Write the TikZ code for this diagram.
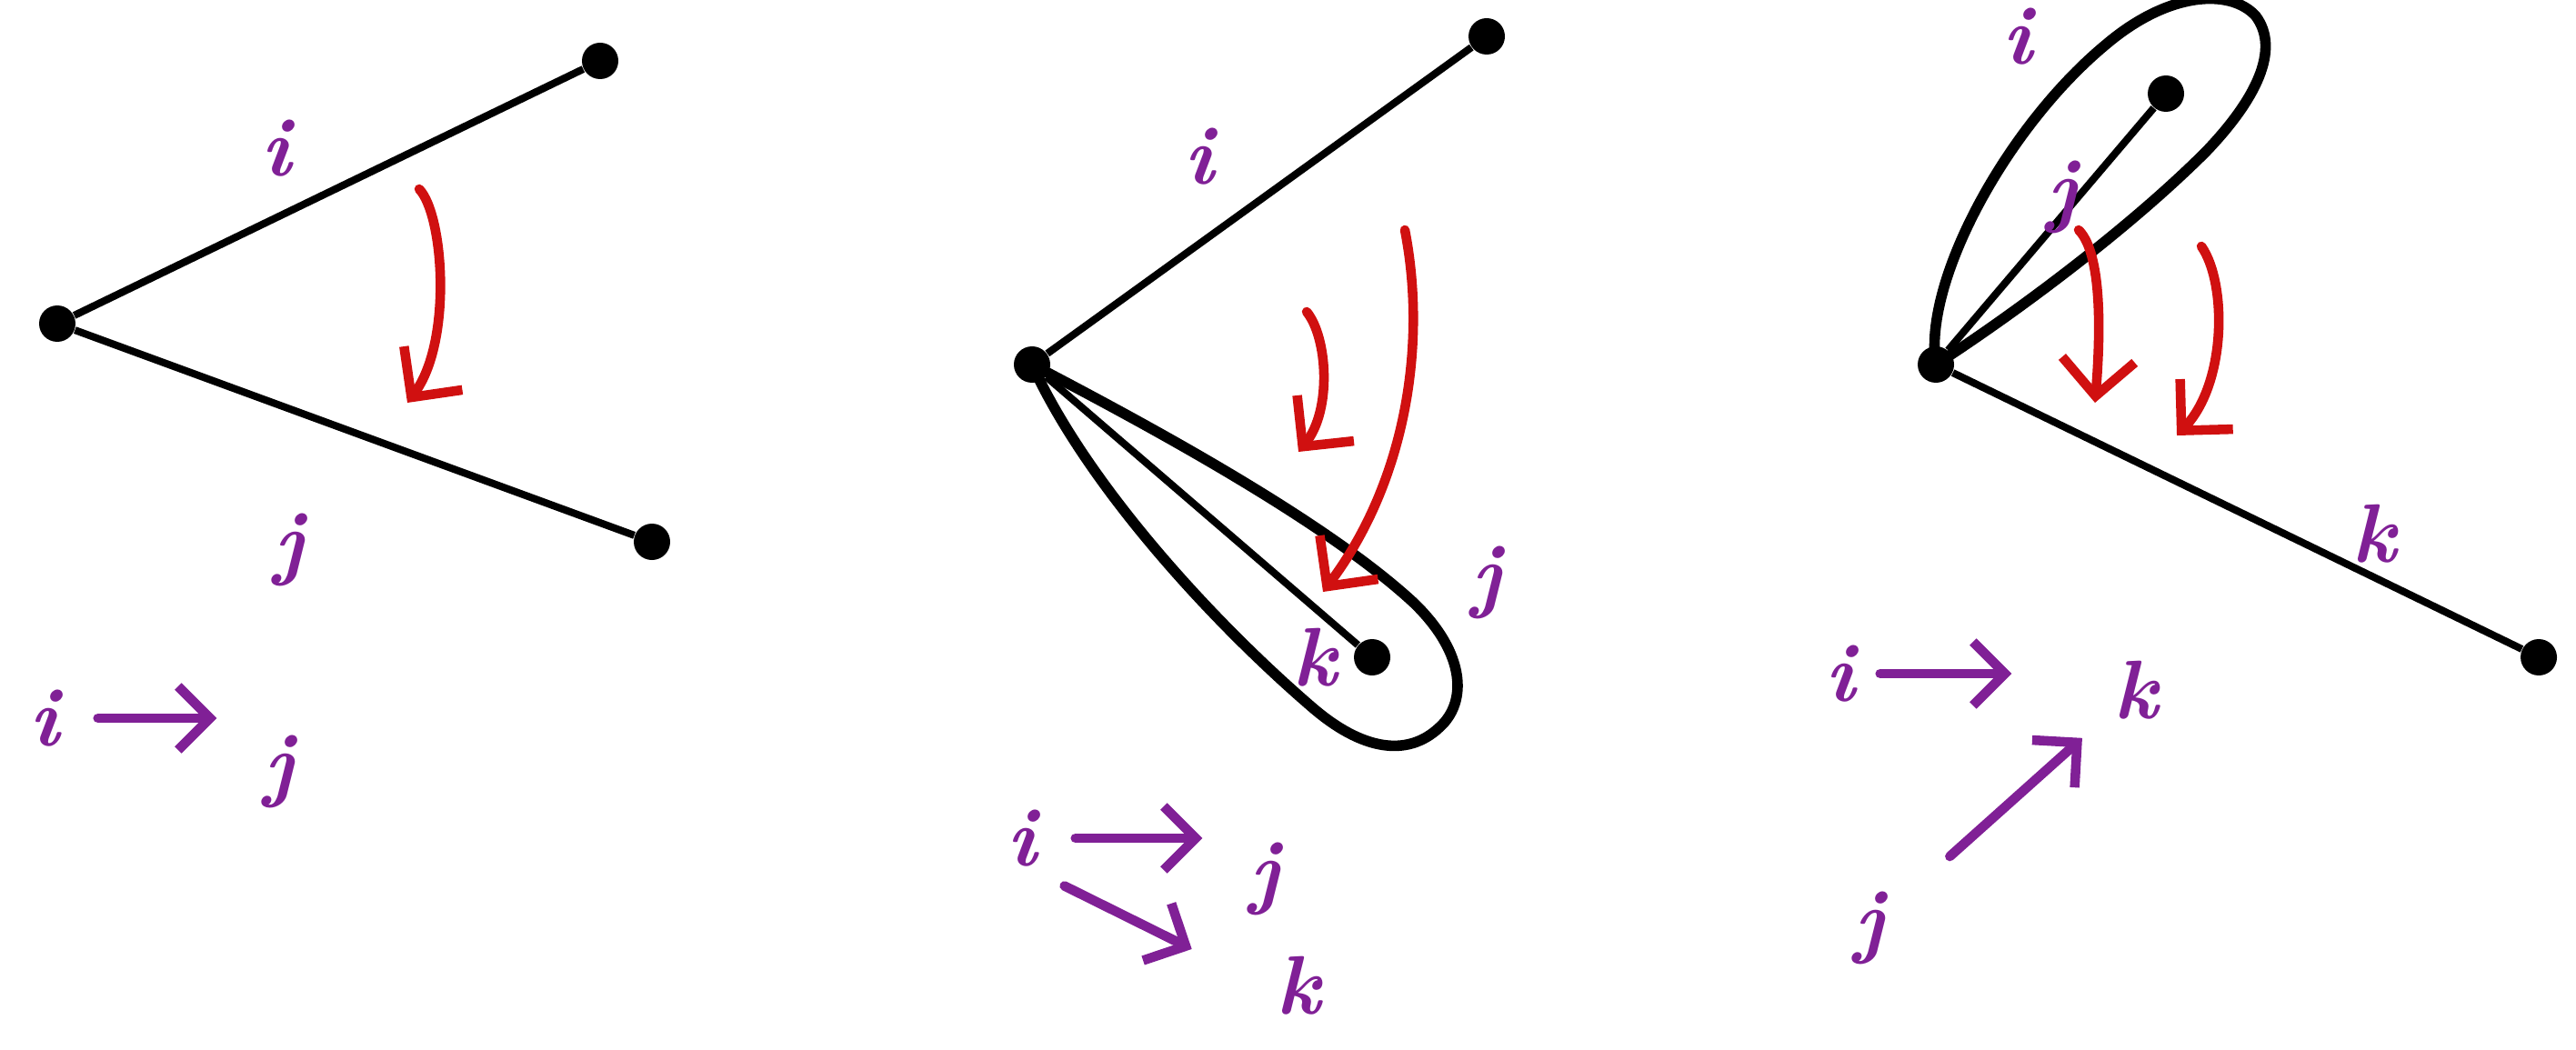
\documentclass[tikz,border=0pt]{standalone}
\usepackage{fontspec}
\usepackage{tikz}
\usetikzlibrary{arrows.meta,calc}
\usepackage{xcolor}
\definecolor{idx}{RGB}{128,32,150}
\definecolor{redarc}{RGB}{208,16,16}

\begin{document}
\begin{tikzpicture}[
  vtx/.style={circle,fill=black,inner sep=0pt,minimum size=4mm},
  stick/.style={line width=2.3pt},
  petal/.style={line width=3.3pt,line join=round},
  idxlbl/.style={text=idx,font=\fontsize{26}{28}\selectfont\bfseries\itshape},
  turnarr/.style={line width=3pt,draw=redarc,line cap=round,
    -{Straight Barb[length=4mm,width=8mm]}},
  maparr/.style={line width=3pt,draw=idx,line cap=round,
    -{Straight Barb[length=3.5mm,width=7mm]}}]
\clip (0,0) rectangle (28.33,11.54);

% (a) two edges at one vertex
\begin{scope}[shift={(0.63,7.98)}]
  \node[vtx] (c1) at (0,0) {};
  \node[vtx] (t1) at (5.97,2.89) {};
  \node[vtx] (b1) at (6.54,-2.40) {};
  \draw[stick] (c1) -- (t1);
  \draw[stick] (c1) -- (b1);
  \node[idxlbl] (li1) at (2.41,1.93) {i};
  \node[idxlbl] (lj1) at (2.55,-2.49) {j};
  \coordinate (r1s) at (3.98,1.48);
  \coordinate (r1e) at (3.85,-0.87);
  \draw[turnarr] (r1s) .. controls (4.25,1.2) and (4.35,-0.2) .. (r1e);
  \node[idxlbl] (fi1) at (-0.14,-4.34) {i};
  \node[idxlbl] (fj1) at (2.44,-4.93) {j};
  \draw[maparr,shorten <=3mm,shorten >=4mm] (fi1.east) -- (fi1.east -| fj1.west);
\end{scope}

% (b) j folded round k
\begin{scope}[shift={(11.35,7.53)}]
  \node[vtx] (c2) at (0,0) {};
  \node[vtx] (t2) at (5.00,3.61) {};
  \node[vtx] (k2) at (3.74,-3.22) {};
  \draw[stick] (c2) -- (t2);
  \draw[stick] (c2) -- (k2);
  \draw[petal,rotate=-40.7] (0,0) .. controls (1.5,0.35) and (3.6,0.8) .. (4.9,0.75)
    .. controls (5.7,0.7) and (6.05,0.3) .. (6.0,-0.1)
    .. controls (5.95,-0.6) and (5.5,-0.85) .. (4.8,-0.85)
    .. controls (3.3,-0.85) and (1.3,-0.6) .. cycle;
  \node[idxlbl] (li2) at (1.84,2.29) {i};
  \node[idxlbl] (lj2) at (5.00,-2.40) {j};
  \node[idxlbl] (lk2) at (3.11,-3.22) {k};
  \coordinate (r2s) at (3.02,0.58);
  \coordinate (r2e) at (2.93,-0.96);
  \coordinate (r3s) at (4.10,1.48);
  \coordinate (r3e) at (3.20,-2.50);
  \draw[turnarr] (r2s) .. controls (3.25,0.3) and (3.3,-0.5) .. (r2e);
  \draw[turnarr] (r3s) .. controls (4.35,0.2) and (4.1,-1.3) .. (r3e);
  \node[idxlbl] (fi2) at (-0.11,-5.21) {i};
  \node[idxlbl] (fj2) at (2.56,-5.66) {j};
  \node[idxlbl] (fk2) at (2.93,-6.83) {k};
  \draw[maparr,shorten <=3mm,shorten >=4mm] (fi2.east) -- (fi2.east -| fj2.west);
  \draw[maparr,shorten <=2mm,shorten >=9mm] (fi2.south east) -- (fk2.west);
\end{scope}

% (c) i folded round j
\begin{scope}[shift={(21.29,7.53)}]
  \node[vtx] (c3) at (0,0) {};
  \node[vtx] (j3) at (2.53,2.98) {};
  \node[vtx] (b3) at (6.63,-3.22) {};
  \draw[stick] (c3) -- (j3);
  \draw[stick] (c3) -- (b3);
  \draw[petal,rotate=49.7] (0,0) .. controls (0.6,0.7) and (2.5,1.1) .. (3.9,0.85)
    .. controls (4.8,0.7) and (5.25,0.2) .. (5.2,-0.2)
    .. controls (5.1,-0.65) and (4.5,-0.8) .. (3.7,-0.75)
    .. controls (2.5,-0.65) and (1.0,-0.3) .. cycle;
  \node[idxlbl,anchor=base,inner sep=0pt] (li3) at (0.90,3.30) {i};
  \node[idxlbl] (lj3) at (1.39,1.84) {j};
  \node[idxlbl] (lk3) at (4.82,-1.86) {k};
  \coordinate (r4s) at (1.57,1.48);
  \coordinate (r4e) at (1.75,-0.42);
  \coordinate (r5s) at (2.92,1.30);
  \coordinate (r5e) at (2.65,-0.78);
  \draw[turnarr] (r4s) .. controls (1.85,1.2) and (1.8,0.2) .. (r4e);
  \draw[turnarr] (r5s) .. controls (3.2,0.9) and (3.2,-0.2) .. (r5e);
  \node[idxlbl] (fi3) at (-1.05,-3.40) {i};
  \node[idxlbl] (fk3) at (2.20,-3.58) {k};
  \node[idxlbl] (fj3) at (-0.73,-6.20) {j};
  \draw[maparr,shorten <=1.5mm,shorten >=10mm] (fi3.east) -- (fi3.east -| fk3.west);
  \draw[maparr,shorten <=8mm,shorten >=3mm] (fj3) -- (fk3);
\end{scope}

\end{tikzpicture}
\end{document}
